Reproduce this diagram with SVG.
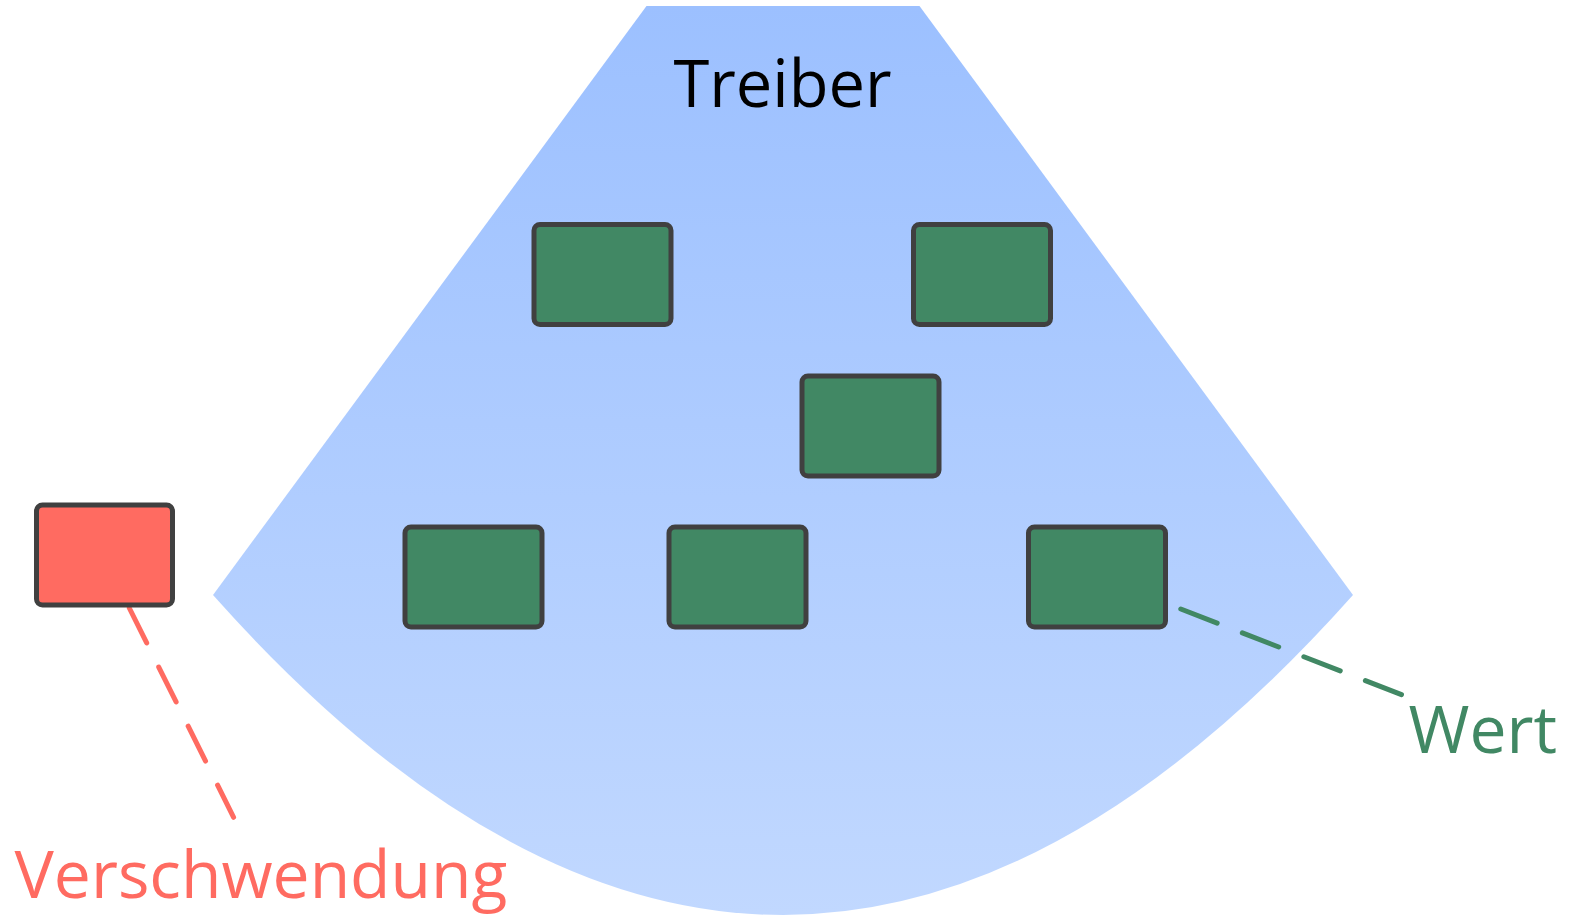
<svg xmlns="http://www.w3.org/2000/svg" width="1570" height="919" viewBox="0 0 1570 919">
  <defs>
    <linearGradient id="zone" x1="0" y1="0" x2="0" y2="1">
      <stop offset="0" stop-color="#9cc0ff"/>
      <stop offset="1" stop-color="#c1d8ff"/>
    </linearGradient>
    <style>
      .box { stroke: #404040; stroke-width: 5; }
      .val { fill: #418864; }
      .waste { fill: #ff6b61; }
      .lbl { font-family: "Open Sans", "Noto Sans", "DejaVu Sans", sans-serif; font-size: 66px; }
      .dash { fill: none; stroke-width: 5; stroke-linecap: round; stroke-dasharray: 39 27; }
    </style>
  </defs>
  <rect width="1570" height="919" fill="#ffffff"/>

  <g id="treiber-zone">
    <path d="M646.5,6 L919.5,6 L1353,595 Q783,1235 213,595 Z" fill="url(#zone)"/>
    <text class="lbl" x="782.5" y="107" text-anchor="middle" fill="#000000" style="font-size:65px">Treiber</text>
  </g>

  <g id="connectors">
    <line class="dash" x1="129.3" y1="608" x2="233.6" y2="817.3" stroke="#ff6b61"/>
    <line class="dash" x1="1180.8" y1="609" x2="1401.5" y2="694.6" stroke="#418864"/>
  </g>

  <g id="node-1"><rect class="box val" x="534" y="224.5" width="137" height="100" rx="6"/></g>
  <g id="node-2"><rect class="box val" x="913.5" y="224.5" width="137" height="100" rx="6"/></g>
  <g id="node-3"><rect class="box val" x="802" y="376" width="137" height="100" rx="6"/></g>
  <g id="node-4"><rect class="box val" x="405" y="527" width="137" height="100" rx="6"/></g>
  <g id="node-5"><rect class="box val" x="669" y="527" width="137" height="100" rx="6"/></g>
  <g id="node-6"><rect class="box val" x="1028.5" y="527" width="137" height="100" rx="6"/></g>
  <g id="node-waste"><rect class="box waste" x="36.5" y="505" width="136" height="100" rx="6"/></g>

  <g id="label-verschwendung">
    <text class="lbl" x="14.5" y="898" fill="#ff6b61">Verschwendung</text>
  </g>
  <g id="label-wert">
    <text class="lbl" x="1408.5" y="753" fill="#418864">Wert</text>
  </g>
</svg>
